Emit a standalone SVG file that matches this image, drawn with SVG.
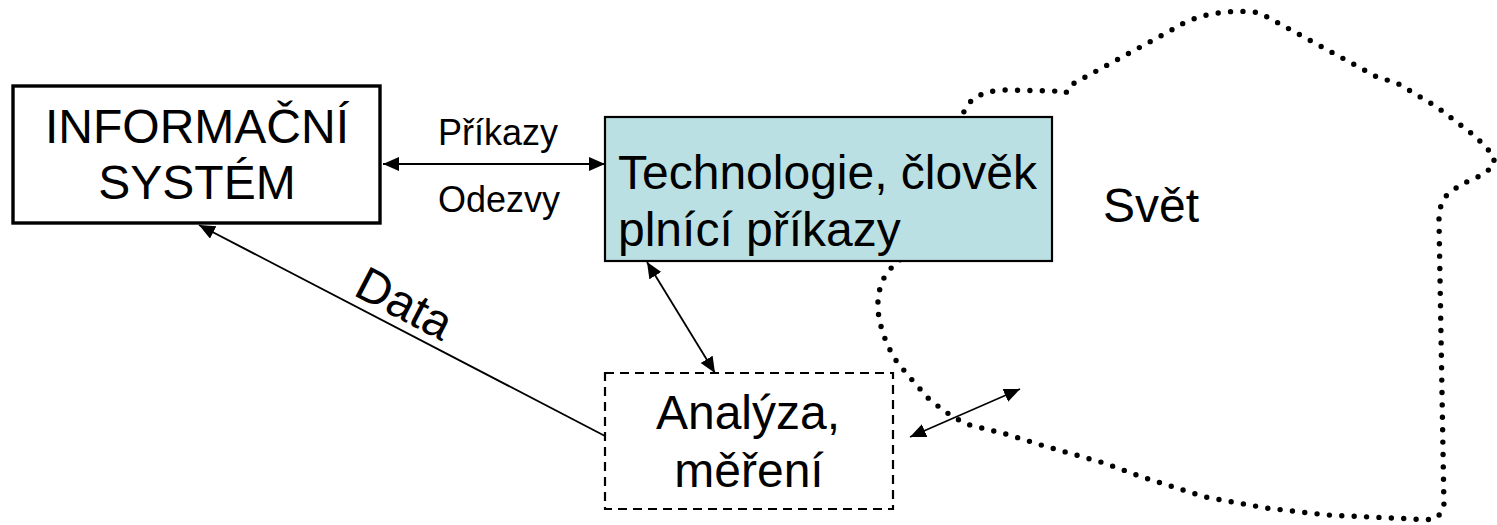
<svg xmlns="http://www.w3.org/2000/svg" width="1497" height="525" viewBox="0 0 1497 525">
<style>
text{font-family:"Liberation Sans",Arial,sans-serif;fill:#000}
.big{font-size:48px}
.sm{font-size:36px}
.conn{stroke:#000;stroke-width:1.8;fill:none}
.cloud{stroke:#000;stroke-width:5.4;fill:none;stroke-linecap:round;stroke-linejoin:round;stroke-dasharray:0 12.4}
</style>
<defs>
<marker id="ah" markerUnits="userSpaceOnUse" markerWidth="17" markerHeight="15" refX="16" refY="7" orient="auto-start-reverse">
<path d="M0,0 L16,7 L0,14 z" fill="#000"/>
</marker>
</defs>
<rect width="1497" height="525" fill="#fff"/>
<g id="svet">
<path class="cloud" d="M955,135 L962,118 C966,100 980,91 1004,90 L1054,91 L1066,93 L1069,86 L1177,27 C1195,15 1230,8 1260,13 L1377,77 L1397,83 L1437,107 L1458,123 L1476,137 L1494,156 L1494,165 L1484,174 L1460,185 L1446,196 C1440,205 1439,212 1439,220 L1444,508 L1437,518 L1425,520 L1413,519 L1327,515 L1266,508 L1205,497 L1145,478 L1104,463 L1041,445 L1006,434 L970,425 C955,419 945,412 929,399 L913,381 L897,362 C888,348 880,330 878,310 C877,292 882,272 899,262 L905,250"/>
<text class="big" x="1103" y="222">Svět</text>
</g>
<g id="is">
<rect x="13" y="86" width="367" height="137" fill="#fff" stroke="#000" stroke-width="3.4"/>
<text class="big" x="197" y="143" text-anchor="middle">INFORMAČNÍ</text>
<text class="big" x="197" y="199" text-anchor="middle">SYSTÉM</text>
</g>
<g id="tech">
<rect x="605" y="117" width="447" height="144" fill="#BBE0E3" stroke="#000" stroke-width="2.2"/>
<text class="big" x="618" y="189">Technologie, člověk</text>
<text class="big" x="618" y="246">plnící příkazy</text>
</g>
<g id="analyza">
<rect x="605" y="373" width="288" height="136" fill="none" stroke="#000" stroke-width="2.2" stroke-dasharray="9 6"/>
<text class="big" x="748" y="429" text-anchor="middle">Analýza,</text>
<text class="big" x="749" y="487" text-anchor="middle">měření</text>
</g>
<g id="connectors">
<line class="conn" x1="383" y1="164" x2="605" y2="164" marker-start="url(#ah)" marker-end="url(#ah)"/>
<line class="conn" x1="605" y1="436" x2="199" y2="225" marker-end="url(#ah)"/>
<line class="conn" x1="647" y1="262" x2="715" y2="373" marker-start="url(#ah)" marker-end="url(#ah)"/>
<line class="conn" x1="910" y1="437" x2="1020" y2="389" marker-start="url(#ah)" marker-end="url(#ah)"/>
<text class="sm" x="438" y="145">Příkazy</text>
<text class="sm" x="438" y="212">Odezvy</text>
<text class="big" x="397" y="318" text-anchor="middle" transform="rotate(27.5 397 318)">Data</text>
</g>
</svg>
